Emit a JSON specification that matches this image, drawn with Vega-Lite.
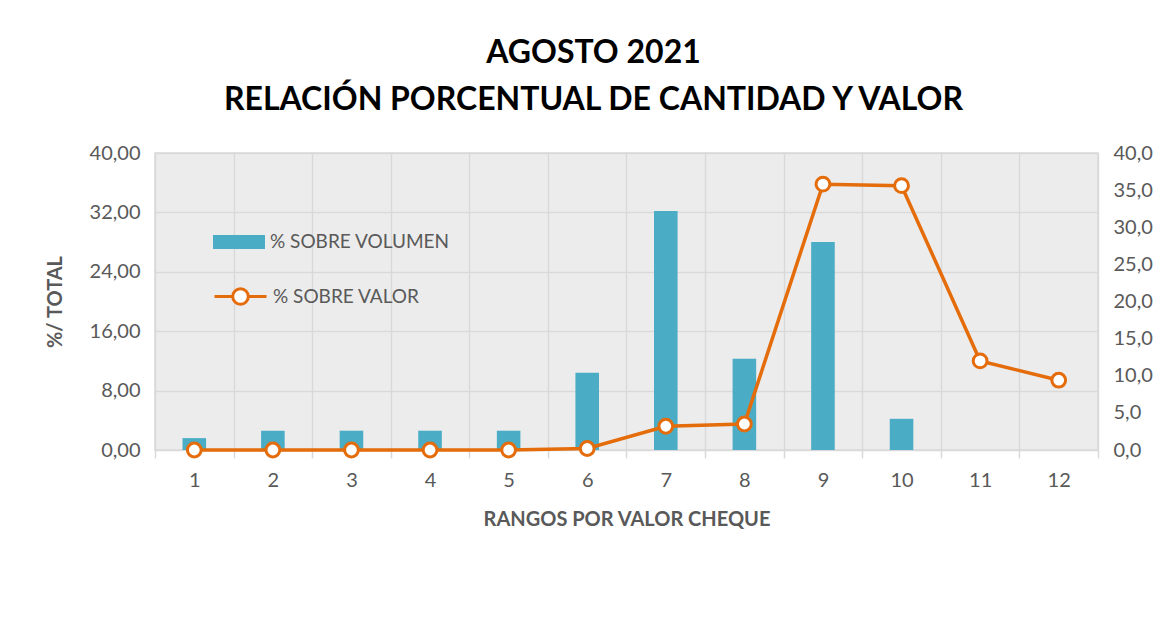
{
  "$schema": "https://vega.github.io/schema/vega-lite/v6.json",
  "width": 943,
  "height": 297,
  "autosize": {"type": "none"},
  "padding": {"left": 155, "top": 153, "right": 75, "bottom": 173},
  "background": "white",
  "title": {
    "text": ["AGOSTO 2021", "RELACIÓN PORCENTUAL DE CANTIDAD Y VALOR"],
    "font": "Lato",
    "fontWeight": "bold",
    "fontSize": 32,
    "lineHeight": 47,
    "color": "#000000",
    "anchor": "middle",
    "dx": -33,
    "offset": 26
  },
  "data": {
    "values": [
      {"rango": 1, "vol": 1.6, "val": 0.0},
      {"rango": 2, "vol": 2.6, "val": 0.0},
      {"rango": 3, "vol": 2.6, "val": 0.0},
      {"rango": 4, "vol": 2.6, "val": 0.0},
      {"rango": 5, "vol": 2.6, "val": 0.0},
      {"rango": 6, "vol": 10.4, "val": 0.2},
      {"rango": 7, "vol": 32.2, "val": 3.2},
      {"rango": 8, "vol": 12.3, "val": 3.5},
      {"rango": 9, "vol": 28.0, "val": 35.8},
      {"rango": 10, "vol": 4.2, "val": 35.6},
      {"rango": 11, "vol": 0.0, "val": 12.0},
      {"rango": 12, "vol": 0.0, "val": 9.4}
    ]
  },
  "encoding": {
    "x": {
      "field": "rango",
      "type": "ordinal",
      "scale": {"paddingInner": 0, "paddingOuter": 0},
      "axis": {
        "title": "RANGOS POR VALOR CHEQUE",
        "titleFont": "Lato",
        "titleFontWeight": "bold",
        "titleFontSize": 20,
        "titleColor": "#595959",
        "titlePadding": 19,
        "labelAngle": 0,
        "labelFont": "Lato",
        "labelFontSize": 20,
        "labelColor": "#595959",
        "labelPadding": 12,
        "domain": false,
        "ticks": true,
        "tickSize": 8,
        "tickColor": "#d9d9d9",
        "tickWidth": 1.5,
        "tickBand": "extent",
        "grid": true,
        "gridColor": "#d9d9d9",
        "gridWidth": 1.5
      }
    }
  },
  "layer": [
    {
      "mark": {"type": "bar", "width": {"band": 0.3}},
      "encoding": {
        "y": {
          "field": "vol",
          "type": "quantitative",
          "scale": {"domain": [0, 40]},
          "axis": {
            "title": "%/ TOTAL",
            "titleFont": "Lato",
            "titleFontWeight": "bold",
            "titleFontSize": 20,
            "titleColor": "#595959",
            "titlePadding": 24,
            "values": [0, 8, 16, 24, 32, 40],
            "labelExpr": "replace(format(datum.value, '.2f'), '.', ',')",
            "labelFont": "Lato",
            "labelFontSize": 20,
            "labelColor": "#595959",
            "labelPadding": 15,
            "domain": false,
            "ticks": false,
            "grid": true,
            "gridColor": "#d9d9d9",
            "gridWidth": 1.5
          }
        },
        "fill": {
          "datum": "% SOBRE VOLUMEN",
          "scale": {"range": ["#4BACC6"]},
          "legend": {
            "title": null,
            "orient": "none",
            "legendX": 58,
            "legendY": 63,
            "symbolType": "M-1,-0.27H1V0.27H-1Z",
            "symbolSize": 2704,
            "symbolStrokeWidth": 0,
            "labelFont": "Lato",
            "labelFontSize": 19,
            "labelColor": "#595959",
            "labelOffset": 5,
            "labelLimit": 400
          }
        }
      }
    },
    {
      "mark": {"type": "line", "strokeWidth": 3.5},
      "encoding": {
        "y": {
          "field": "val",
          "type": "quantitative",
          "scale": {"domain": [0, 40]},
          "axis": {
            "orient": "right",
            "title": null,
            "values": [0, 5, 10, 15, 20, 25, 30, 35, 40],
            "labelExpr": "replace(format(datum.value, '.1f'), '.', ',')",
            "labelFont": "Lato",
            "labelFontSize": 20,
            "labelColor": "#595959",
            "labelPadding": 15,
            "domain": false,
            "ticks": false,
            "grid": false
          }
        },
        "stroke": {
          "datum": "% SOBRE VALOR",
          "scale": {"range": ["#E46C0A"]},
          "legend": {
            "title": null,
            "orient": "none",
            "legendX": 58,
            "legendY": 116,
            "symbolType": "M-1,0H-0.3M0.3,0H1M-0.3,0A0.3,0.3,0,1,1,0.3,0A0.3,0.3,0,1,1,-0.3,0Z",
            "symbolSize": 2704,
            "symbolStrokeWidth": 3,
            "symbolFillColor": "white",
            "labelFont": "Lato",
            "labelFontSize": 19,
            "labelColor": "#595959",
            "labelOffset": 5,
            "labelLimit": 400
          }
        }
      }
    },
    {
      "mark": {"type": "point", "filled": true, "fill": "white", "stroke": "#E46C0A", "strokeWidth": 3, "size": 190, "opacity": 1},
      "encoding": {
        "y": {"field": "val", "type": "quantitative", "scale": {"domain": [0, 40]}, "axis": null}
      }
    }
  ],
  "resolve": {"scale": {"y": "independent"}},
  "config": {
    "view": {"fill": "#ececec", "stroke": "#d9d9d9", "strokeWidth": 1.5}
  }
}
